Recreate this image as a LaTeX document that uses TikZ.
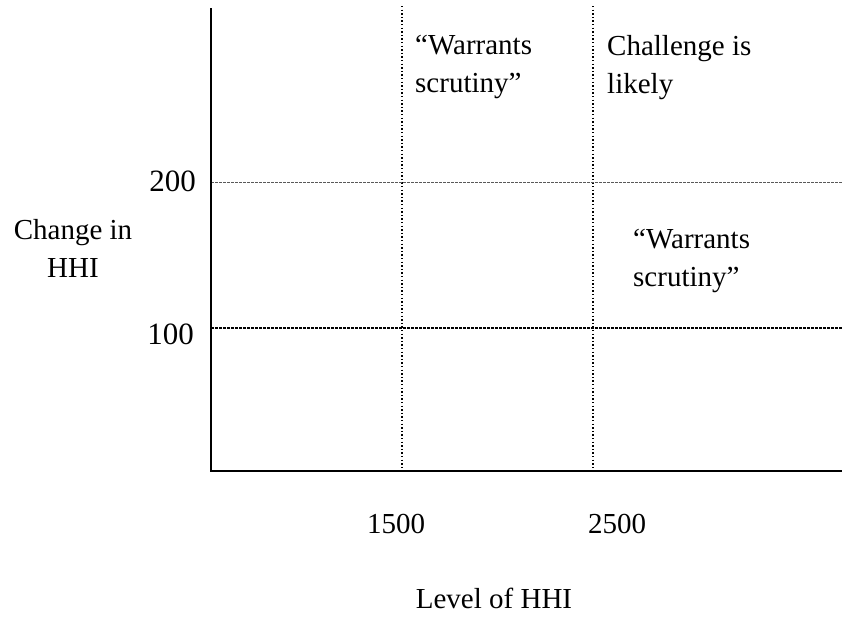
\documentclass[tikz,border=0pt]{standalone}
\usepackage{fontspec}
\setmainfont{Liberation Serif}
\usetikzlibrary{positioning,calc}

\begin{document}
\begin{tikzpicture}[x=1pt, y=-1pt,
    lbl/.style={font=\fontsize{29}{38}\selectfont, inner sep=0pt},
    tick/.style={font=\fontsize{31}{38}\selectfont, inner sep=0pt, anchor=east},
    vgrid/.style={line width=1.4pt, dash pattern=on 1.4pt off 2.2pt},
    hgrid/.style={line width=1pt, gray!70!black, dash pattern=on 2.5pt off 1.5pt},
    axis/.style={line width=2.6pt}]
  \useasboundingbox (0,0) rectangle (842,616);
  % axes
  \coordinate (ytop) at (211,8);
  \coordinate (orig) at (211,471);
  \coordinate (xend) at (842,471);
  % grid ends
  \coordinate (v1t) at (402,6);  \coordinate (v1b) at (402,471);
  \coordinate (v2t) at (593,6);  \coordinate (v2b) at (593,471);
  \coordinate (h2l) at (211,182); \coordinate (h2r) at (842,182);
  \coordinate (h1l) at (211,328); \coordinate (h1r) at (842,328);

  \draw[vgrid] (v1t) -- (v1b);
  \draw[vgrid] (v2t) -- (v2b);
  \draw[hgrid] (h2l) -- (h2r);
  \draw[hgrid, line width=1.8pt, black] (h1l) -- (h1r);
  \draw[axis] (ytop) -- (orig) -- (xend);

  % tick labels
  \node[tick] (t200) at (196,181) {200};
  \node[tick] (t100) at (194,334) {100};
  \node[lbl] (t1500) at (396,524) {1500};
  \node[lbl] (t2500) at (617,524) {2500};

  % axis titles
  \node[lbl, align=center, anchor=north] (ylab) at (73,219) {Change in\\HHI};
  \node[lbl] (xlab) at (494,598) {Level of HHI};

  % region texts
  \node[lbl, align=left, anchor=north west] (ws1) at (415,35) {``Warrants\\scrutiny''};
  \node[lbl, align=left, anchor=north west] (chal) at (607,35) {Challenge is\\likely};
  \node[lbl, align=left, anchor=north west] (ws2) at (633,229) {``Warrants\\scrutiny''};
\end{tikzpicture}
\end{document}
